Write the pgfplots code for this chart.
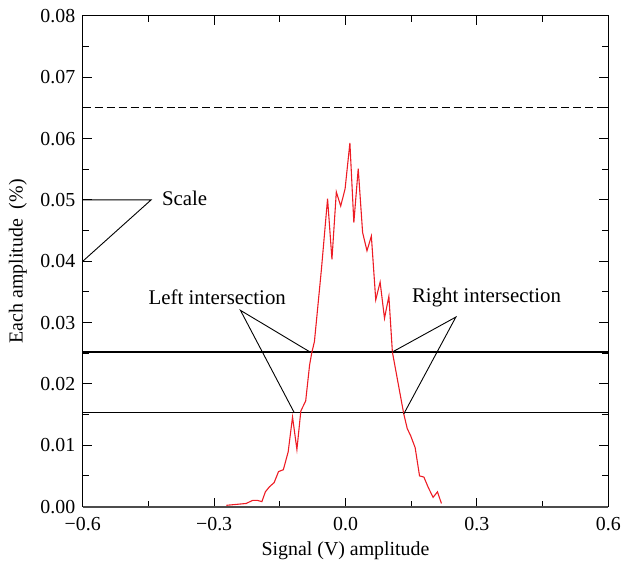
\documentclass[border=0pt]{standalone}
\usepackage{pgfplots}
\pgfplotsset{compat=1.18}
\usepackage{fontspec}
\setmainfont{Liberation Serif}

\definecolor{curvered}{RGB}{237,28,36}

\begin{document}
\begin{tikzpicture}
\begin{axis}[
  scale only axis, width=527bp, height=492bp,
  xmin=-0.6, xmax=0.6, ymin=0, ymax=0.08,
  xtick={-0.6,-0.3,0,0.3,0.6},
  xticklabels={−0.6,−0.3,0.0,0.3,0.6},
  ytick={0,0.01,0.02,0.03,0.04,0.05,0.06,0.07,0.08},
  yticklabels={0.00,0.01,0.02,0.03,0.04,0.05,0.06,0.07,0.08},
  scaled y ticks=false, scaled x ticks=false,
  minor x tick num=1, minor y tick num=1,
  tick align=inside,
  major tick length=9bp, minor tick length=6bp,
  every tick/.style={black, line width=0.9bp},
  axis line style={line width=0.9bp},
  tick label style={font=\fontsize{20}{24}\selectfont},
  yticklabel style={xshift=-4bp},
  xticklabel style={yshift=-7bp},
  label style={font=\fontsize{20}{24}\selectfont},
  xlabel={Signal (V) amplitude},
  ylabel={Each amplitude~~(\%)},
  xlabel style={at={(axis description cs:0.5,-0.0894)}, anchor=center},
  ylabel style={at={(axis description cs:-0.1233,0.5)}, anchor=center},
  clip=false,
]
% reference levels
\addplot[black, line width=0.9bp, dash pattern=on 8bp off 4bp] coordinates {(-0.6,0.065) (0.6,0.065)};
\addplot[black, line width=1.1bp] coordinates {(-0.6,0.0252) (0.6,0.0252)};
\addplot[black, line width=1.1bp] coordinates {(-0.6,0.0153) (0.6,0.0153)};

% measured amplitude distribution
\addplot[curvered, line width=1.1bp] table {
x y
-0.272 0.0002
-0.242 0.0004
-0.227 0.0005
-0.212 0.0010
-0.201 0.0010
-0.191 0.0008
-0.183 0.0024
-0.174 0.0032
-0.163 0.0039
-0.153 0.0057
-0.142 0.0060
-0.131 0.0089
-0.121 0.0146
-0.111 0.0093
-0.102 0.0156
-0.091 0.0172
-0.082 0.0231
-0.077 0.0251
-0.071 0.0269
-0.055 0.0387
-0.041 0.0502
-0.031 0.0403
-0.021 0.0513
-0.011 0.0490
-0.001 0.0518
0.010 0.0593
0.019 0.0463
0.029 0.0551
0.039 0.0447
0.049 0.0417
0.059 0.0441
0.069 0.0337
0.079 0.0366
0.089 0.0307
0.099 0.0343
0.107 0.0252
0.133 0.0151
0.141 0.0127
0.149 0.0115
0.159 0.0096
0.169 0.0050
0.179 0.0048
0.189 0.0031
0.200 0.0015
0.210 0.0024
0.219 0.0005
};

% annotations
\addplot[black, line width=0.9bp] coordinates {(-0.6,0.05) (-0.444,0.05) (-0.6,0.04)};
\addplot[black, line width=0.9bp] coordinates {(-0.081,0.0252) (-0.24,0.032) (-0.117,0.0153)};
\addplot[black, line width=0.9bp] coordinates {(0.107,0.0252) (0.252,0.0309) (0.133,0.0151)};
\node[anchor=west, font=\fontsize{21}{25}\selectfont] at (axis cs:-0.427,0.0502) {Scale};
\node[font=\fontsize{21}{25}\selectfont] at (axis cs:-0.293,0.0341) {Left intersection};
\node[font=\fontsize{21}{25}\selectfont] at (axis cs:0.322,0.0341) {Right intersection};

\draw[black!70, line width=2bp] (rel axis cs:0,0) -- (rel axis cs:1,0);
\path (axis cs:-0.789,-0.0107) (axis cs:0.632,0.0826);
\end{axis}
\end{tikzpicture}
\end{document}
